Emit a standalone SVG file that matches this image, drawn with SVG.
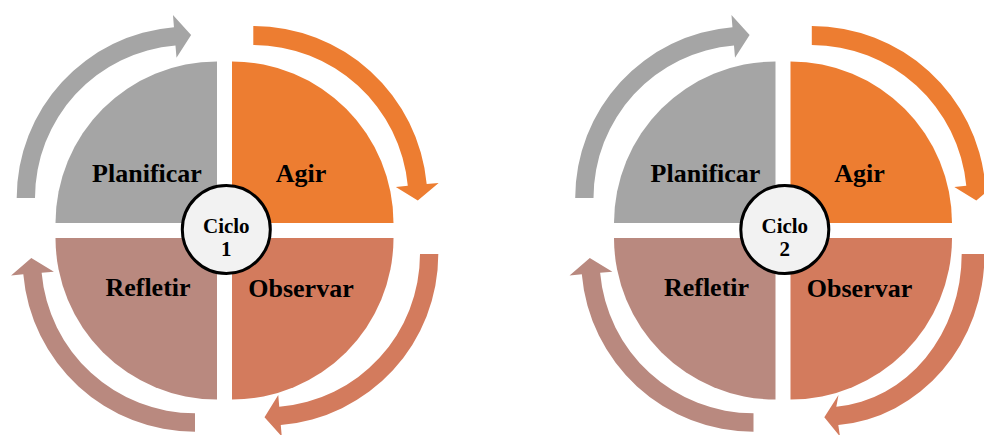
<svg xmlns="http://www.w3.org/2000/svg" width="984" height="435" viewBox="0 0 984 435">
<style>
.gray{fill:#A5A5A5}
.orange{fill:#ED7D31}
.obs{fill:#D37B5D}
.ref{fill:#B9897F}
.lbl{font-family:"Liberation Serif","Times New Roman",serif;font-weight:bold;font-size:26px;fill:#000;text-anchor:middle}
.ctr{font-family:"Liberation Serif","Times New Roman",serif;font-weight:bold;font-size:21px;fill:#000;text-anchor:middle}
.hub{fill:#F2F2F2;stroke:#000;stroke-width:3}
</style>
<rect width="984" height="435" fill="#fff"/>
<g id="cycle1">
  <g id="connectors1">
    <path class="gray" d="M16.7,198 A171.3,171.3 0 0 1 173.97,27.28 L172.96,15 L191.1,35.05 L176.5,57.8 L175.47,45.52 A153,153 0 0 0 35,198 Z"/>
    <path class="orange" d="M253.3,26 A174.15,174.15 0 0 1 426.7,184.06 L438.65,182.96 L417.8,200.5 L395.84,186.93 L407.79,185.82 A155.15,155.15 0 0 0 253.3,45 Z"/>
    <path class="obs" d="M438.3,254 A171.6,171.6 0 0 1 280.76,425.02 L281.77,436.5 L264.5,417.25 L278.25,395 L279.26,406.79 A153.3,153.3 0 0 0 420,254 Z"/>
    <path class="ref" d="M195,431.7 A172.35,172.35 0 0 1 23.3,274.31 L11.05,275.38 L31.3,258 L53.89,271.65 L41.63,272.72 A153.95,153.95 0 0 0 195,413.3 Z"/>
  </g>
  <g id="planificar1"><path class="gray" d="M217,223 L217,61.5 A161.5,161.5 0 0 0 55.5,223 Z"/><text class="lbl" x="147" y="182">Planificar</text></g>
  <g id="agir1"><path class="orange" d="M232,223 L232,61.5 A161.5,161.5 0 0 1 393.5,223 Z"/><text class="lbl" x="301" y="182">Agir</text></g>
  <g id="refletir1"><path class="ref" d="M217,238 L55.5,238 A161.5,161.5 0 0 0 217,399.5 Z"/><text class="lbl" x="148" y="296">Refletir</text></g>
  <g id="observar1"><path class="obs" d="M232,238 L393.5,238 A161.5,161.5 0 0 1 232,399.5 Z"/><text class="lbl" x="301" y="296.5">Observar</text></g>
  <g id="ciclo1"><circle class="hub" cx="226.3" cy="229.5" r="44"/><text class="ctr" x="226.3" y="233">Ciclo</text><text class="ctr" x="226.3" y="256">1</text></g>
</g>
<g id="cycle2" transform="translate(558.5,0)">
  <g id="connectors2">
    <path class="gray" d="M16.7,198 A171.3,171.3 0 0 1 173.97,27.28 L172.96,15 L191.1,35.05 L176.5,57.8 L175.47,45.52 A153,153 0 0 0 35,198 Z"/>
    <path class="orange" d="M253.3,26 A174.15,174.15 0 0 1 426.7,184.06 L438.65,182.96 L417.8,200.5 L395.84,186.93 L407.79,185.82 A155.15,155.15 0 0 0 253.3,45 Z"/>
    <path class="obs" d="M426,254 A159.3,171.6 0 0 1 279.8,425.02 L281.5,436.5 L265.8,417.25 L280,395 L277.8,406.8 A136.5,153.3 0 0 0 403.2,254 Z"/>
    <path class="ref" d="M195,431.7 A172.35,172.35 0 0 1 23.3,274.31 L11.05,275.38 L31.3,258 L53.89,271.65 L41.63,272.72 A153.95,153.95 0 0 0 195,413.3 Z"/>
  </g>
  <g id="planificar2"><path class="gray" d="M217,223 L217,61.5 A161.5,161.5 0 0 0 55.5,223 Z"/><text class="lbl" x="147" y="182">Planificar</text></g>
  <g id="agir2"><path class="orange" d="M232,223 L232,61.5 A161.5,161.5 0 0 1 393.5,223 Z"/><text class="lbl" x="301" y="182">Agir</text></g>
  <g id="refletir2"><path class="ref" d="M217,238 L55.5,238 A161.5,161.5 0 0 0 217,399.5 Z"/><text class="lbl" x="148" y="296">Refletir</text></g>
  <g id="observar2"><path class="obs" d="M232,238 L393.5,238 A161.5,161.5 0 0 1 232,399.5 Z"/><text class="lbl" x="301" y="296.5">Observar</text></g>
  <g id="ciclo2"><circle class="hub" cx="226.3" cy="229.5" r="44"/><text class="ctr" x="226.3" y="233">Ciclo</text><text class="ctr" x="226.3" y="256">2</text></g>
</g>
</svg>
